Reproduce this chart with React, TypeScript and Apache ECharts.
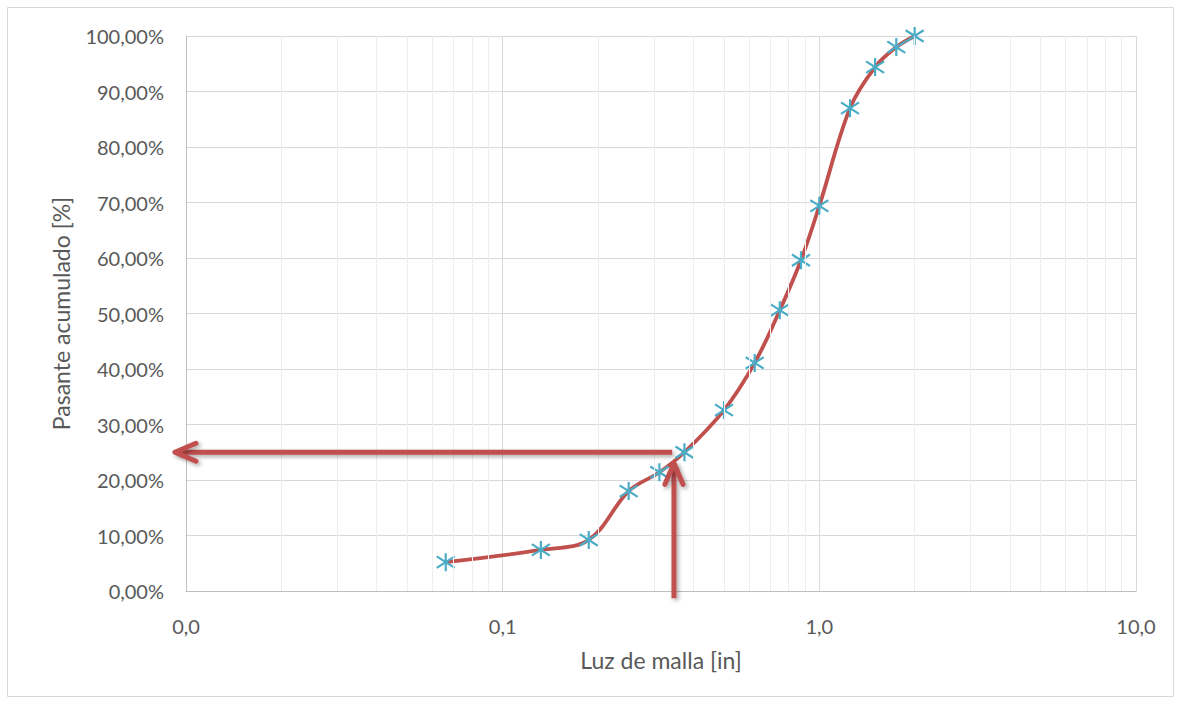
import React, { useEffect, useRef } from "react";
import * as echarts from "echarts";

// Sieve opening [in] and cumulative passing [%]
const sizes = [0.0661, 0.132, 0.187, 0.25, 0.3125, 0.375, 0.5, 0.625, 0.75, 0.875, 1, 1.25, 1.5, 1.75, 2];
const passing = [5.2, 7.4, 9.2, 18.0, 21.4, 25.0, 32.6, 41.1, 50.6, 59.6, 69.4, 87.0, 94.4, 98.0, 100];

// Annotation arrows (data coordinates)
const arrowHFrom = [0.343, 25];
const arrowHTo = [0.00923, 25];
const arrowVFrom = [0.3475, -1.3];
const arrowVTo = [0.3475, 23.0];

const decades = [0.01, 0.1, 1];
const minorSteps = [2, 3, 4, 5, 6, 7, 8, 9];

const RED = "#C0504D";
const AQUA = "#4BACC6";
const TXT = "#595959";
const FONT = "Lato, 'Open Sans', 'Liberation Sans', sans-serif";

export default function App() {
  const ref = useRef<HTMLDivElement>(null);
  useEffect(() => {
    if (!ref.current) return;
    const chart = echarts.init(ref.current, null, { renderer: "svg" });
    const minorX: number[] = [];
    decades.forEach((d) => minorSteps.forEach((s) => minorX.push(+(d * s).toPrecision(3))));
    const fmtX = (v: number) => (v < 0.05 ? 0 : v).toFixed(1).replace(".", ",");
    chart.setOption({
      animation: false,
      backgroundColor: "#fff",
      grid: { left: 186, top: 36, right: 45, bottom: 113, containLabel: false },
      xAxis: {
        type: "log",
        logBase: 10,
        min: 0.01,
        max: 10,
        name: "Luz de malla [in]",
        nameLocation: "middle",
        nameGap: 57,
        nameTextStyle: { color: TXT, fontSize: 23, fontFamily: FONT },
        axisLine: { show: true, lineStyle: { color: "#bfbfbf", width: 1 } },
        axisTick: { show: false },
        axisLabel: { color: TXT, fontSize: 20, fontFamily: FONT, margin: 25, formatter: fmtX },
        splitLine: { show: true, lineStyle: { color: "#d9d9d9", width: 1 } },
      },
      yAxis: {
        type: "value",
        min: 0,
        max: 100,
        interval: 10,
        name: "Pasante acumulado [%]",
        nameLocation: "middle",
        nameGap: 114,
        nameTextStyle: { color: TXT, fontSize: 23, fontFamily: FONT },
        axisLine: { show: true, lineStyle: { color: "#bfbfbf", width: 1 } },
        axisTick: { show: false },
        axisLabel: {
          color: TXT,
          fontSize: 20,
          fontFamily: FONT,
          margin: 22,
          formatter: (v: number) => v.toFixed(2).replace(".", ",") + "%",
        },
        splitLine: { show: true, lineStyle: { color: "#d9d9d9", width: 1 } },
      },
      series: [
        {
          type: "line",
          data: [],
          z: 1,
          silent: true,
          markLine: {
            silent: true,
            symbol: "none",
            label: { show: false },
            lineStyle: { color: "#eeeeee", width: 1, type: "solid" },
            data: minorX.map((v) => ({ xAxis: v })),
          },
        },
        {
          type: "line",
          z: 3,
          data: sizes.map((s, i) => [s, passing[i]]),
          smooth: 0.35,
          lineStyle: { color: RED, width: 3.8 },
          symbol: "path://M5,0L5,10M0.5,1.8L9.5,8.2M0.5,8.2L9.5,1.8",
          symbolSize: [18, 18],
          itemStyle: { color: AQUA, borderColor: AQUA, borderWidth: 2.2 },
        },
      ],
    });

    const p = (v: number[]) => chart.convertToPixel({ gridIndex: 0 }, v) as number[];
    const hA = p(arrowHFrom), hB = p(arrowHTo);
    const vA = p(arrowVFrom), vB = p(arrowVTo);
    const shadow = {
      shadowBlur: 4,
      shadowOffsetX: 2,
      shadowOffsetY: 2,
      shadowColor: "rgba(0,0,0,0.35)",
    };
    const headStyle = {
      stroke: RED,
      lineWidth: 5,
      fill: null,
      lineCap: "round",
      lineJoin: "round",
      ...shadow,
    };
    const W = 5;
    chart.setOption({
      graphic: [
        {
          type: "rect",
          shape: { x: 7.5, y: 7.5, width: 1166, height: 689 },
          style: { fill: null, stroke: "#d9d9d9", lineWidth: 1 },
          silent: true,
        },
        {
          type: "rect",
          z: 100,
          shape: { x: hB[0] + 2, y: hA[1] - W / 2, width: hA[0] - hB[0] - 2, height: W },
          style: { fill: RED, ...shadow },
        },
        {
          type: "polyline",
          z: 100,
          shape: { points: [[hB[0] + 21, hB[1] - 9], hB, [hB[0] + 21, hB[1] + 9]] },
          style: headStyle,
        },
        {
          type: "rect",
          z: 100,
          shape: { x: vA[0] - W / 2, y: vB[1] + 2, width: W, height: vA[1] - vB[1] - 2 },
          style: { fill: RED, ...shadow },
        },
        {
          type: "polyline",
          z: 100,
          shape: { points: [[vB[0] - 9, vB[1] + 21], vB, [vB[0] + 9, vB[1] + 21]] },
          style: headStyle,
        },
      ],
    });
    return () => chart.dispose();
  }, []);
  return (
    <div
      ref={ref}
      style={{ position: "absolute", left: 0, top: 0, width: 1181, height: 704 }}
    />
  );
}
